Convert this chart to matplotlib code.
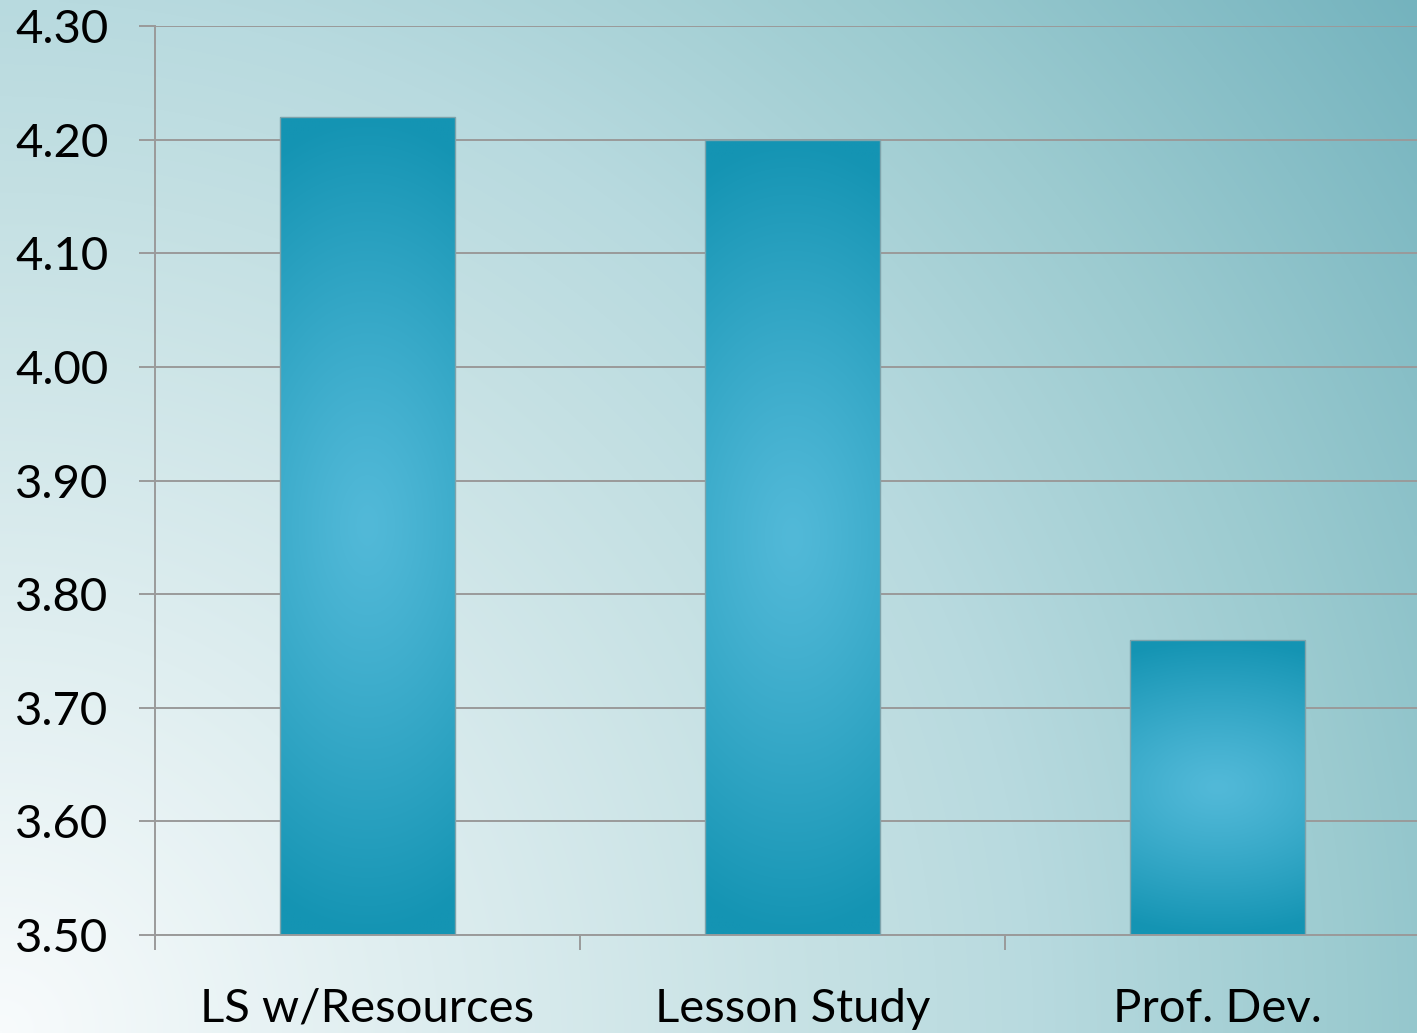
import numpy as np
import matplotlib
matplotlib.use('Agg')
import matplotlib.pyplot as plt
from matplotlib.colors import to_rgb

# --- Mean ratings by group ---
categories = ['LS w/Resources', 'Lesson Study', 'Prof. Dev.']
values = [4.22, 4.20, 3.76]
y_ticks = [3.50, 3.60, 3.70, 3.80, 3.90, 4.00, 4.10, 4.20, 4.30]

plt.rcParams['font.family'] = ['Lato', 'DejaVu Sans']

W, H = 1417, 1033
fig = plt.figure(figsize=(W / 100, H / 100), dpi=100)

# background: radial wash spreading out from the lower-left corner
bg = fig.add_axes([0, 0, 1, 1], zorder=0)
bg.set_axis_off()
stops = [0.0, 0.48, 0.59, 0.77, 1.0]
stop_cols = np.array([to_rgb(c) for c in
                      ['#f8fbfc', '#c4e0e3', '#b8dadf', '#9ccbd0', '#74b3be']])
px = np.linspace(0, W, 355)[None, :]
py = np.linspace(H, 0, 260)[:, None]          # height above bottom edge, top row first
d = np.sqrt(px ** 2 + py ** 2) / np.hypot(W, H)
img = np.stack([np.interp(d, stops, stop_cols[:, k]) for k in range(3)], axis=-1)
bg.imshow(img, aspect='auto', extent=[0, 1, 0, 1], origin='upper',
          interpolation='bilinear')
bg.set_xlim(0, 1); bg.set_ylim(0, 1)

ax = fig.add_axes([155 / W, 1 - 935 / H, 1275 / W, (935 - 26) / H], zorder=1)
ax.patch.set_alpha(0)

x = np.arange(len(categories))
bars = ax.bar(x, [v_ - 3.5 for v_ in values], bottom=3.5, width=0.41,
              color='none', edgecolor='#7ea3ab', linewidth=1.0, zorder=3)

# soft shading inside each bar: light in the middle, darker top and bottom
c_mid, c_edge = np.array(to_rgb('#52b9d8')), np.array(to_rgb('#1494b3'))
for bar in bars:
    x0, y0 = bar.get_x(), bar.get_y()
    bw, bh = bar.get_width(), bar.get_height()
    dx = np.linspace(-1, 1, 100)[None, :]
    dy = np.linspace(-1, 1, 300)[:, None]
    t = np.clip(np.sqrt(0.15 * dx ** 2 + dy ** 2), 0, 1) ** 1.2
    shade = c_mid * (1 - t[..., None]) + c_edge * t[..., None]
    im = ax.imshow(shade, extent=[x0, x0 + bw, y0, y0 + bh], aspect='auto',
                   origin='lower', interpolation='bilinear', zorder=2)
    im.set_clip_path(bar)

ax.set_xlim(-0.5, 2.5)
ax.set_ylim(3.5, 4.3)
ax.set_yticks(y_ticks)
ax.set_yticklabels([f'{t:.2f}' for t in y_ticks])
ax.set_xticks(x)
ax.set_xticklabels(categories)
ax.set_xticks([-0.5, 0.5, 1.5, 2.5], minor=True)

ax.grid(axis='y', color='#9a9a9a', linewidth=1.4, zorder=1)
ax.set_axisbelow(True)
for s in ['top', 'right']:
    ax.spines[s].set_visible(False)
for s in ['left', 'bottom']:
    ax.spines[s].set_color('#9a9a9a')
    ax.spines[s].set_linewidth(1.4)

ax.tick_params(axis='y', length=11.5, width=1.4, color='#9a9a9a', pad=22,
               labelsize=34, labelcolor='black')
ax.tick_params(axis='x', which='major', length=0, pad=38,
               labelsize=34, labelcolor='black')
ax.tick_params(axis='x', which='minor', length=11, width=1.4, color='#9a9a9a')

fig.savefig('out.png', dpi=100)
